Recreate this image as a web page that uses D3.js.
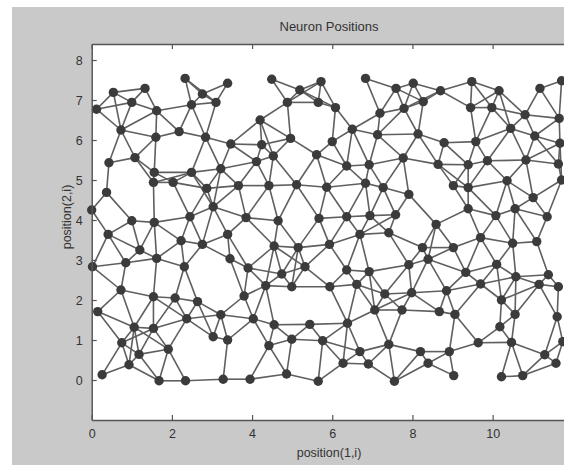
<!DOCTYPE html>
<html>
<head>
<meta charset="utf-8">
<script src="https://cdn.jsdelivr.net/npm/d3@7"></script>
<style>
  html, body { margin: 0; padding: 0; background: #ffffff; }
  svg { display: block; }
  text { font-family: "Liberation Sans", Arial, Helvetica, sans-serif; fill: #333333; }
</style>
</head>
<body>
<svg id="chart" width="564" height="465"></svg>
<script>
// ---- Data (neuron positions) ----
const title = "Neuron Positions";
const xLabel = "position(1,i)";
const yLabel = "position(2,i)";
const xTicks = [0, 2, 4, 6, 8, 10];
const yTicks = [0, 1, 2, 3, 4, 5, 6, 7, 8];
const linkDistance = 1.02; // neurons closer than ~1 unit are linked

const posX = [
  2.33,3.39,1.33,0.54,2.76,1.00,3.10,2.49,0.12,1.62,
  0.73,2.18,1.60,2.84,3.47,0.43,1.08,4.49,5.72,5.19,
  6.83,7.59,7.79,4.88,5.65,6.08,7.19,4.20,6.50,7.13,
  4.96,6.00,4.24,4.53,5.61,4.11,6.36,6.92,7.77,8.02,
  9.48,8.70,10.16,11.18,11.72,8.27,9.45,9.98,10.81,11.66,
  10.45,8.14,11.05,8.79,9.58,11.68,8.64,9.39,9.87,10.83,
  11.64,1.56,2.49,3.22,1.54,2.03,2.87,3.66,0.37,0.00,
  3.03,2.45,3.85,1.00,1.56,0.41,3.39,2.23,2.76,1.20,
  1.62,3.45,0.85,2.31,0.02,3.90,0.73,1.54,2.08,3.80,
  4.42,5.11,5.86,6.83,7.27,7.91,4.65,5.67,6.36,6.94,
  7.58,6.69,7.41,4.55,5.15,5.93,7.91,5.32,4.74,6.36,
  6.92,4.34,4.99,5.94,6.61,7.31,9.02,9.39,10.36,11.72,
  11.01,9.39,10.56,10.08,11.36,8.59,9.70,10.50,11.10,8.25,
  9.02,8.39,10.10,9.33,10.58,11.39,9.70,11.16,11.64,7.98,
  8.85,2.64,0.15,3.22,2.37,1.06,1.54,3.03,3.39,0.75,
  1.91,1.18,0.93,0.26,1.68,2.34,3.28,3.95,4.03,4.55,
  5.44,6.38,7.06,7.74,4.99,5.76,4.42,7.41,6.69,6.27,
  6.90,4.86,5.65,7.55,8.67,9.06,10.22,10.56,11.61,10.18,
  11.75,9.64,10.47,8.20,8.92,11.30,8.39,11.58,9.03,10.22,
  10.75
];
const posY = [
  7.54,7.42,7.29,7.19,7.15,6.94,6.94,6.88,6.77,6.73,
  6.25,6.21,6.07,6.07,5.90,5.43,5.56,7.52,7.46,7.25,
  7.54,7.29,6.79,6.94,6.94,6.81,6.67,6.50,6.27,6.13,
  6.04,5.96,5.88,5.60,5.63,5.46,5.35,5.38,5.55,7.42,
  7.46,7.23,7.23,7.29,7.48,6.96,6.81,6.81,6.63,6.54,
  6.29,6.15,6.10,5.93,5.96,5.92,5.39,5.38,5.48,5.50,
  5.40,5.19,5.19,5.28,4.94,4.94,4.79,4.86,4.69,4.25,
  4.33,4.08,4.06,3.98,3.94,3.64,3.64,3.48,3.39,3.25,
  3.04,3.03,2.93,2.83,2.83,2.80,2.25,2.08,2.05,2.10,
  4.86,4.88,4.82,4.92,4.81,4.64,3.98,4.04,4.08,4.11,
  4.13,3.64,3.68,3.35,3.31,3.39,2.88,2.83,2.65,2.75,
  2.71,2.36,2.33,2.33,2.39,2.15,4.86,4.81,4.98,5.00,
  4.56,4.28,4.28,4.11,4.08,3.89,3.56,3.42,3.46,3.31,
  3.31,3.02,2.89,2.69,2.58,2.63,2.40,2.39,2.33,2.18,
  2.23,1.96,1.71,1.63,1.53,1.32,1.29,1.08,1.00,0.93,
  0.77,0.64,0.38,0.13,-0.02,-0.02,0.02,0.02,1.53,1.38,
  1.39,1.42,1.75,1.75,1.02,0.98,0.86,0.89,0.71,0.42,
  0.40,0.15,-0.03,-0.03,1.71,1.64,2.00,1.64,1.58,1.33,
  0.96,0.93,0.94,0.71,0.71,0.63,0.42,0.42,0.11,0.08,
  0.11
];

// ---- Layout ----
const svg = d3.select("#chart");
const W = 564, H = 465;
const plot = { left: 91.7, right: 566, top: 44, bottom: 420 };

// figure background (gray panel with thin white margin at top/left)
svg.append("rect").attr("x", 0).attr("y", 0).attr("width", W).attr("height", H).attr("fill", "#ffffff");
svg.append("rect").attr("x", 12).attr("y", 7).attr("width", W - 12).attr("height", H - 7).attr("fill", "#c9c9c9");

const x = d3.scaleLinear().domain([0, 11.83]).range([plot.left, plot.right]);
const y = d3.scaleLinear().domain([-1, 8.4]).range([plot.bottom, plot.top]);

// axes area
svg.append("rect")
  .attr("x", plot.left).attr("y", plot.top)
  .attr("width", plot.right - plot.left).attr("height", plot.bottom - plot.top)
  .attr("fill", "#ffffff");

const nodes = posX.map((px, i) => ({ x: px, y: posY[i] }));

// links: pairs of neurons within link distance
const links = [];
for (let i = 0; i < nodes.length; i++) {
  for (let j = i + 1; j < nodes.length; j++) {
    const dx = nodes[i].x - nodes[j].x, dy = nodes[i].y - nodes[j].y;
    if (Math.sqrt(dx * dx + dy * dy) <= linkDistance) links.push([nodes[i], nodes[j]]);
  }
}

const g = svg.append("g");
g.selectAll("line.link").data(links).join("line")
  .attr("class", "link")
  .attr("x1", d => x(d[0].x)).attr("y1", d => y(d[0].y))
  .attr("x2", d => x(d[1].x)).attr("y2", d => y(d[1].y))
  .attr("stroke", "#5f5f5f").attr("stroke-width", 1.6);

g.selectAll("circle.node").data(nodes).join("circle")
  .attr("class", "node")
  .attr("cx", d => x(d.x)).attr("cy", d => y(d.y))
  .attr("r", 4.7)
  .attr("fill", "#3b3b3b");

// axes with inward ticks
const axisColor = "#555555";
const bottomAxis = svg.append("g").attr("transform", `translate(0,${plot.bottom})`)
  .call(d3.axisBottom(x).tickValues(xTicks).tickSizeInner(-5).tickSizeOuter(0).tickPadding(9).tickFormat(d3.format("d")));
const topAxis = svg.append("g").attr("transform", `translate(0,${plot.top})`)
  .call(d3.axisTop(x).tickValues(xTicks).tickSizeInner(-5).tickSizeOuter(0).tickFormat(""));
const leftAxis = svg.append("g").attr("transform", `translate(${plot.left},0)`)
  .call(d3.axisLeft(y).tickValues(yTicks).tickSizeInner(-5).tickSizeOuter(0).tickPadding(9).tickFormat(d3.format("d")));

[bottomAxis, topAxis, leftAxis].forEach(a => {
  a.select(".domain").attr("stroke", axisColor).attr("stroke-width", 1.5);
  a.selectAll(".tick line").attr("stroke", axisColor).attr("stroke-width", 1.2);
  a.selectAll(".tick text").attr("fill", "#333333").style("font-size", "12.5px")
   .style("font-family", '"Liberation Sans", Arial, sans-serif');
});

// titles
svg.append("text").attr("x", 329).attr("y", 31).attr("text-anchor", "middle")
  .style("font-size", "13px").text(title);
svg.append("text").attr("x", 329).attr("y", 457).attr("text-anchor", "middle")
  .style("font-size", "12.5px").text(xLabel);
svg.append("text").attr("transform", `translate(71,${(plot.top + plot.bottom) / 2 - 15}) rotate(-90)`)
  .attr("text-anchor", "middle").style("font-size", "12.5px").text(yLabel);
</script>
</body>
</html>
